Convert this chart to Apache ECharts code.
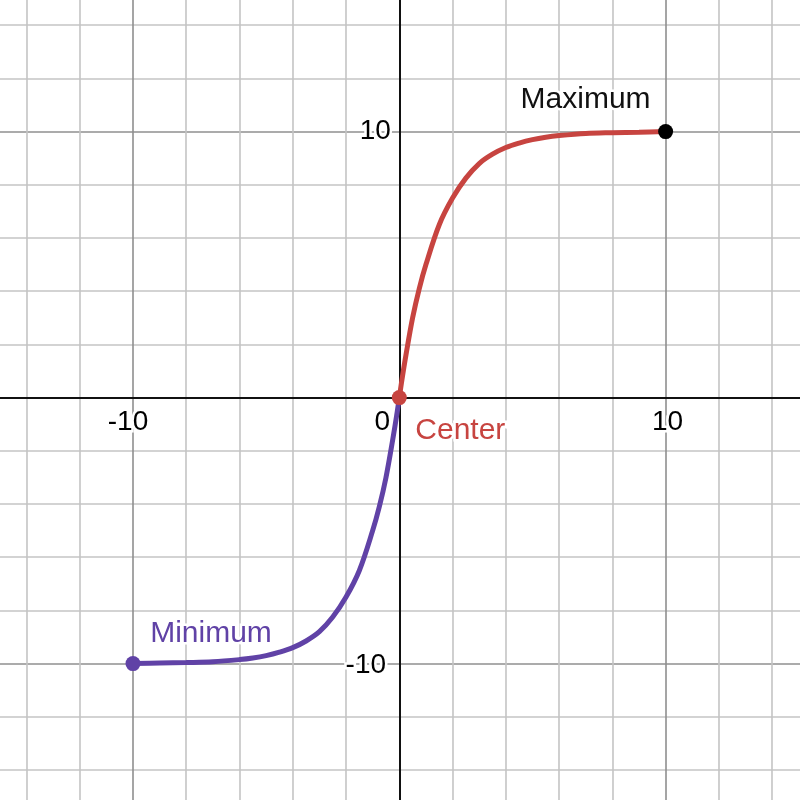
<!DOCTYPE html>
<html>
<head>
<meta charset="utf-8">
<script src="https://cdn.jsdelivr.net/npm/echarts@6/dist/echarts.min.js"></script>
<style>html,body{margin:0;padding:0;background:#fff;}#c{width:800px;height:800px;}</style>
</head>
<body>
<div id="c"></div>
<script>
// Upper branch (red)
const upperX = [0, 0.1, 0.25, 0.5, 0.75, 1, 1.5, 2, 2.5, 3, 3.5, 4, 4.5, 5, 5.5, 6, 7, 8, 9, 10];
const upperY = [0, 0.68, 1.6, 3.0, 4.1, 5.0, 6.5, 7.5, 8.25, 8.8, 9.15, 9.4, 9.57, 9.7, 9.79, 9.85, 9.93, 9.96, 9.98, 10];
// Lower branch (purple)
const lowerX = [-10, -9, -8, -7, -6, -5.5, -5, -4.5, -4, -3.5, -3, -2.5, -2, -1.5, -1, -0.75, -0.5, -0.25, -0.1, 0];
const lowerY = [-10, -9.98, -9.96, -9.93, -9.85, -9.79, -9.7, -9.57, -9.4, -9.15, -8.8, -8.25, -7.5, -6.5, -5.0, -4.1, -3.0, -1.6, -0.68, 0];
// Labelled points
const pointNames = ['Maximum', 'Minimum', 'Center'];
const pointX = [10, -10, 0];
const pointY = [10, -10, 0];
// Tick labels
const xTickLabels = [-10, 0, 10];
const yTickLabels = [-10, 10];

const RED = '#c74440', PURPLE = '#6042a6', BLACK = '#000000';
const FONT = 'Liberation Sans, Arial, Helvetica, sans-serif';
const minor = '#c4c4c4', major = '#8f8f8f';

function zip(xs, ys) { return xs.map((x, i) => [x, ys[i]]); }

const tickLabel = {show: true, position: 'inside', fontSize: 28, fontFamily: FONT, color: '#000', textBorderColor: '#fff', textBorderWidth: 5};
const ptLabel = {show: true, position: 'inside', fontSize: 30, fontFamily: FONT, textBorderColor: '#fff', textBorderWidth: 5};

const xTickData = xTickLabels.map(v => ({
  value: [v, 0],
  label: Object.assign({}, tickLabel, {formatter: String(v), offset: [v === 0 ? -17 : (v < 0 ? -5 : 2), 25]})
}));
const yTickData = yTickLabels.map(v => ({
  value: [0, v],
  label: Object.assign({}, tickLabel, {formatter: String(v), offset: [v < 0 ? -33.5 : -24, v < 0 ? 2 : 0]})
}));

const axisCommon = {
  type: 'value', min: -16, max: 16, interval: 2,
  axisLine: {onZero: true, lineStyle: {color: '#111', width: 2}},
  axisTick: {show: false},
  axisLabel: {show: false},
  splitLine: {show: true, lineStyle: {color: [minor, minor, minor, major, minor], width: 1.6}}
};

const chart = echarts.init(document.getElementById('c'), null, {renderer: 'canvas'});
chart.setOption({
  animation: false,
  backgroundColor: '#ffffff',
  grid: {left: -26.8, right: -25.4, top: -28, bottom: -23.2, containLabel: false, outerBoundsMode: 'none'},
  xAxis: Object.assign({}, axisCommon),
  yAxis: Object.assign({}, axisCommon),
  series: [
    {
      type: 'scatter', symbolSize: 0, z: 1, silent: true,
      itemStyle: {opacity: 1},
      data: xTickData.concat(yTickData)
    },
    {
      type: 'line', data: zip(lowerX, lowerY), smooth: 0.35,
      showSymbol: false, lineStyle: {color: PURPLE, width: 5}, z: 3
    },
    {
      type: 'line', data: zip(upperX, upperY), smooth: 0.35,
      showSymbol: false, lineStyle: {color: RED, width: 5}, z: 3
    },
    {
      type: 'scatter', symbolSize: 15, z: 5,
      data: [
        {value: [pointX[0], pointY[0]], itemStyle: {color: BLACK, opacity: 1},
         label: Object.assign({}, ptLabel, {formatter: pointNames[0], offset: [-80, -32], color: '#111'})},
        {value: [pointX[1], pointY[1]], itemStyle: {color: PURPLE, opacity: 1},
         label: Object.assign({}, ptLabel, {formatter: pointNames[1], offset: [78, -30], color: PURPLE})},
        {value: [pointX[2], pointY[2]], itemStyle: {color: RED, opacity: 1},
         label: Object.assign({}, ptLabel, {formatter: pointNames[2], offset: [61, 33], color: RED})}
      ]
    }
  ]
});
</script>
</body>
</html>
